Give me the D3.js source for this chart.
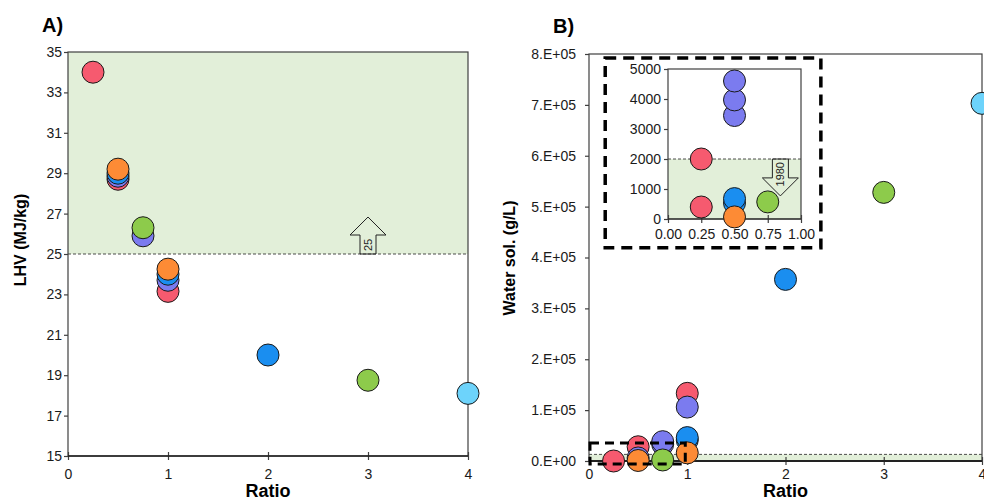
<!DOCTYPE html>
<html>
<head>
<meta charset="utf-8">
<script src="https://cdn.jsdelivr.net/npm/d3@7"></script>
<style>
  body { margin: 0; background: #fff; }
  svg { display: block; font-family: "Liberation Sans", Arial, sans-serif; }
</style>
</head>
<body>
<div id="chart"></div>
<script>
// series order = draw order
const series = ['S1', 'S2', 'S3', 'S4', 'S5', 'S6'];
const colors = ['#f65a6f', '#7b7bef', '#1a8ef0', '#8dcb4b', '#fd8b35', '#6dd3fb'];

// panel A: LHV (MJ/kg) vs ratio
const lhvPoints = [
    { s: 'S1', ratio: 0.25, v: 34.0 },
    { s: 'S1', ratio: 0.5, v: 28.7 },
    { s: 'S1', ratio: 1, v: 23.15 },
    { s: 'S2', ratio: 0.5, v: 28.85 },
    { s: 'S2', ratio: 0.75, v: 25.9 },
    { s: 'S2', ratio: 1, v: 23.7 },
    { s: 'S3', ratio: 0.5, v: 29.0 },
    { s: 'S3', ratio: 1, v: 24.0 },
    { s: 'S3', ratio: 2, v: 20.0 },
    { s: 'S4', ratio: 0.75, v: 26.3 },
    { s: 'S4', ratio: 3, v: 18.75 },
    { s: 'S5', ratio: 0.5, v: 29.2 },
    { s: 'S5', ratio: 1, v: 24.25 },
    { s: 'S6', ratio: 4, v: 18.1 }
];

// panel B: water solubility (g/L) vs ratio
const solPoints = [
    { s: 'S1', ratio: 0.25, v: 0 },
    { s: 'S1', ratio: 0.5, v: 28000 },
    { s: 'S1', ratio: 1, v: 133000 },
    { s: 'S2', ratio: 0.5, v: 6000 },
    { s: 'S2', ratio: 0.75, v: 33000 },
    { s: 'S2', ratio: 0.75, v: 38000 },
    { s: 'S2', ratio: 1, v: 106000 },
    { s: 'S3', ratio: 1, v: 41000 },
    { s: 'S3', ratio: 1, v: 46000 },
    { s: 'S3', ratio: 2, v: 357000 },
    { s: 'S4', ratio: 0.75, v: 2000 },
    { s: 'S4', ratio: 3, v: 528000 },
    { s: 'S5', ratio: 0.5, v: 1000 },
    { s: 'S5', ratio: 1, v: 16000 },
    { s: 'S6', ratio: 4, v: 703000 }
];

// inset of panel B (zoom of low values)
const insetPoints = [
    { s: 'S1', ratio: 0.25, v: 2000 },
    { s: 'S1', ratio: 0.25, v: 400 },
    { s: 'S2', ratio: 0.5, v: 3450 },
    { s: 'S2', ratio: 0.5, v: 3970 },
    { s: 'S2', ratio: 0.5, v: 4600 },
    { s: 'S3', ratio: 0.5, v: 530 },
    { s: 'S3', ratio: 0.5, v: 680 },
    { s: 'S4', ratio: 0.75, v: 570 },
    { s: 'S5', ratio: 0.5, v: 70 }
];

const xTicksMain = [0, 1, 2, 3, 4];
const yTicksA = [15, 17, 19, 21, 23, 25, 27, 29, 31, 33, 35];
const yTicksB = [0, 1e5, 2e5, 3e5, 4e5, 5e5, 6e5, 7e5, 8e5];
const xTicksInset = [0, 0.25, 0.5, 0.75, 1];
const yTicksInset = [0, 1000, 2000, 3000, 4000, 5000];

const lhvLimit = 25;        // arrow label "25"
const solLimitMain = 13000;
const solLimitInset = 2000; // arrow label "1980"

const width = 984;
const height = 501;
const r = 11;
const axisColor = '#404040';
const bandColor = '#e2efd9';

const color = d3.scaleOrdinal().domain(series).range(colors);

const svg = d3.select('#chart')
    .append('svg')
    .attr('width', width)
    .attr('height', height);

const xA = d3.scaleLinear().domain([0, 4]).range([68, 468]);
const yA = d3.scaleLinear().domain([15, 35]).range([456, 52]);
const xB = d3.scaleLinear().domain([0, 4]).range([589, 982]);
const yB = d3.scaleLinear().domain([0, 8e5]).range([461, 54]);
const xI = d3.scaleLinear().domain([0, 1]).range([668, 801]);
const yI = d3.scaleLinear().domain([0, 5000]).range([219, 69]);

function dots(g, data, x, y) {
    g.selectAll('circle')
        .data(data.slice().sort((a, b) => series.indexOf(a.s) - series.indexOf(b.s)))
        .join('circle')
        .attr('cx', d => x(d.ratio))
        .attr('cy', d => y(d.v))
        .attr('r', r)
        .attr('fill', d => color(d.s))
        .attr('stroke', '#1a1a1a')
        .attr('stroke-width', 1);
}

function styleAxis(g, size) {
    g.select('.domain').remove();
    g.selectAll('.tick line').attr('stroke', axisColor).attr('stroke-width', 1.2);
    g.selectAll('.tick text').attr('fill', '#1a1a1a').attr('font-size', size);
}

function crossTicks(g) {
    g.selectAll('.tick line').attr('y1', -4).attr('y2', 4);
}

function frame(g, x, y, bottomWidth) {
    const [x0, x1] = x.range();
    const [y0, y1] = y.range();
    g.append('rect')
        .attr('x', x0).attr('y', y1)
        .attr('width', x1 - x0).attr('height', y0 - y1)
        .attr('fill', 'none')
        .attr('stroke', axisColor)
        .attr('stroke-width', 1.2);
    g.append('line')
        .attr('x1', x0).attr('x2', x1)
        .attr('y1', y0).attr('y2', y0)
        .attr('stroke', '#222')
        .attr('stroke-width', bottomWidth);
}

function band(g, x, y, lo, hi) {
    g.append('rect')
        .attr('x', x.range()[0])
        .attr('y', y(hi))
        .attr('width', x.range()[1] - x.range()[0])
        .attr('height', y(lo) - y(hi))
        .attr('fill', bandColor);
}

function dashedLimit(g, x, y, v) {
    g.append('line')
        .attr('x1', x.range()[0]).attr('x2', x.range()[1])
        .attr('y1', y(v)).attr('y2', y(v))
        .attr('stroke', '#222')
        .attr('stroke-width', 0.8)
        .attr('stroke-dasharray', '3,2');
}

// block arrow drawn from base (x, vFrom) to tip (x, vTo)
function blockArrow(g, x, y, xv, vFrom, vHead, vTo, label, fs) {
    const cx = x(xv);
    const s = 8, h = 18;
    const pts = [
        [cx - s, y(vFrom)], [cx - s, y(vHead)], [cx - h, y(vHead)],
        [cx, y(vTo)],
        [cx + h, y(vHead)], [cx + s, y(vHead)], [cx + s, y(vFrom)]
    ];
    g.append('polygon')
        .attr('points', pts.map(p => p.join(',')).join(' '))
        .attr('fill', 'none')
        .attr('stroke', '#222')
        .attr('stroke-width', 1);
    const up = vTo > vFrom;
    g.append('text')
        .attr('transform', `translate(${cx + 4},${up ? y(vFrom) - 3 : y(vFrom) + 3}) rotate(-90)`)
        .attr('text-anchor', up ? 'start' : 'end')
        .attr('font-size', fs)
        .attr('fill', '#222')
        .text(label);
}

// ---------- panel A ----------
const gA = svg.append('g');
band(gA, xA, yA, lhvLimit, 35);
dashedLimit(gA, xA, yA, lhvLimit);
blockArrow(gA, xA, yA, 3, lhvLimit, 25.94, 26.83, '25', 11);

gA.append('g')
    .attr('transform', `translate(${xA.range()[0]},0)`)
    .call(d3.axisLeft(yA).tickValues(yTicksA).tickSize(4).tickPadding(2))
    .call(g => styleAxis(g, 14));

gA.append('g')
    .attr('transform', `translate(0,${yA.range()[0]})`)
    .call(d3.axisBottom(xA).tickValues(xTicksMain).tickSize(4).tickPadding(9)
        .tickFormat(d3.format('d')))
    .call(g => styleAxis(g, 14))
    .call(crossTicks);

frame(gA, xA, yA, 1.5);
gA.append('g').call(dots, lhvPoints, xA, yA);

gA.append('text')
    .attr('transform', `translate(26,240) rotate(-90)`)
    .attr('text-anchor', 'middle')
    .attr('font-weight', 'bold')
    .attr('font-size', 16)
    .text('LHV (MJ/kg)');

gA.append('text')
    .attr('x', d3.mean(xA.range())).attr('y', 497)
    .attr('text-anchor', 'middle')
    .attr('font-weight', 'bold')
    .attr('font-size', 18)
    .text('Ratio');

gA.append('text')
    .attr('x', 42).attr('y', 32)
    .attr('font-weight', 'bold')
    .attr('font-size', 20)
    .text('A)');

// ---------- panel B ----------
const gB = svg.append('g');
band(gB, xB, yB, 0, solLimitMain);
dashedLimit(gB, xB, yB, solLimitMain);

gB.append('g')
    .attr('transform', `translate(${xB.range()[0]},0)`)
    .call(d3.axisLeft(yB).tickValues(yTicksB).tickSize(4).tickPadding(9)
        .tickFormat(d => `${d / 1e5}.E+0${d === 0 ? 0 : 5}`))
    .call(g => styleAxis(g, 14));

gB.append('g')
    .attr('transform', `translate(0,${yB.range()[0]})`)
    .call(d3.axisBottom(xB).tickValues(xTicksMain).tickSize(4).tickPadding(4)
        .tickFormat(d3.format('d')))
    .call(g => styleAxis(g, 14))
    .call(crossTicks);

frame(gB, xB, yB, 2);
gB.append('g').call(dots, solPoints, xB, yB);

// dashed box marking zoomed region
gB.append('rect')
    .attr('x', xB(0.01)).attr('y', yB(35500))
    .attr('width', xB(0.98) - xB(0.01))
    .attr('height', yB(-6000) - yB(35500))
    .attr('fill', 'none')
    .attr('stroke', '#000')
    .attr('stroke-width', 3)
    .attr('stroke-dasharray', '9,6');

// inset container
gB.append('rect')
    .attr('x', xB(0.165)).attr('y', yB(792000))
    .attr('width', xB(2.36) - xB(0.165))
    .attr('height', yB(419000) - yB(792000))
    .attr('fill', '#fff')
    .attr('stroke', '#000')
    .attr('stroke-width', 3.5)
    .attr('stroke-dasharray', '11,7');

const gI = gB.append('g');
band(gI, xI, yI, 0, solLimitInset);
dashedLimit(gI, xI, yI, solLimitInset);
blockArrow(gI, xI, yI, 0.845, solLimitInset, 1370, 770, '1980', 11);

gI.append('g')
    .attr('transform', `translate(${xI.range()[0]},0)`)
    .call(d3.axisLeft(yI).tickValues(yTicksInset).tickSize(4).tickPadding(3)
        .tickFormat(d3.format('d')))
    .call(g => styleAxis(g, 14));

gI.append('g')
    .attr('transform', `translate(0,${yI.range()[0]})`)
    .call(d3.axisBottom(xI).tickValues(xTicksInset).tickSize(4).tickPadding(6)
        .tickFormat(d3.format('.2f')))
    .call(g => styleAxis(g, 14))
    .call(crossTicks);

frame(gI, xI, yI, 1.2);
gI.append('g').call(dots, insetPoints, xI, yI);

gB.append('text')
    .attr('transform', `translate(515,258) rotate(-90)`)
    .attr('text-anchor', 'middle')
    .attr('font-weight', 'bold')
    .attr('font-size', 16)
    .text('Water sol. (g/L)');

gB.append('text')
    .attr('x', d3.mean(xB.range())).attr('y', 497)
    .attr('text-anchor', 'middle')
    .attr('font-weight', 'bold')
    .attr('font-size', 18)
    .text('Ratio');

gB.append('text')
    .attr('x', 553).attr('y', 33)
    .attr('font-weight', 'bold')
    .attr('font-size', 20)
    .text('B)');
</script>
</body>
</html>
